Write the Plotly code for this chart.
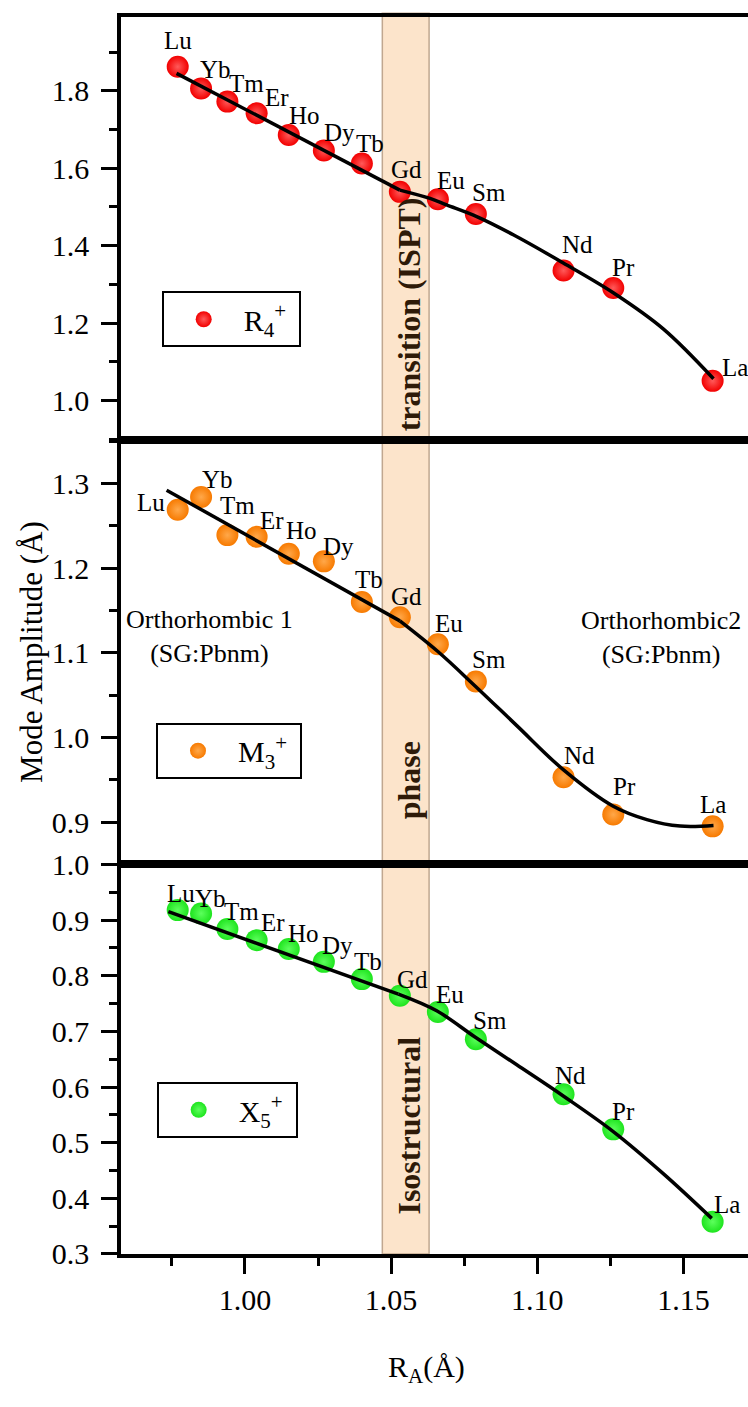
import plotly.graph_objects as go

FONT = "Times New Roman, Liberation Serif, serif"

# ---------------- data ----------------
elements = ["Lu", "Yb", "Tm", "Er", "Ho", "Dy", "Tb", "Gd", "Eu", "Sm", "Nd", "Pr", "La"]
radius = [0.977, 0.985, 0.994, 1.004, 1.015, 1.027, 1.040, 1.053, 1.066, 1.079, 1.109, 1.126, 1.160]

r4_amp = [1.862, 1.806, 1.772, 1.742, 1.686, 1.646, 1.612, 1.539, 1.520, 1.482, 1.336, 1.291, 1.051]
m3_amp = [1.269, 1.284, 1.239, 1.237, 1.217, 1.208, 1.160, 1.142, 1.110, 1.066, 0.953, 0.909, 0.895]
x5_amp = [0.918, 0.912, 0.884, 0.864, 0.848, 0.825, 0.794, 0.764, 0.735, 0.686, 0.587, 0.524, 0.358]

# fitted guide curves
r4_lin_x = [0.9766, 1.053]
r4_lin_y = [1.845, 1.5436]
r4_cur_x = [1.053, 1.0633, 1.0690, 1.0793, 1.0918, 1.1089, 1.1260, 1.1432, 1.1603]
r4_cur_y = [1.5436, 1.522, 1.5051, 1.4751, 1.4282, 1.3554, 1.2785, 1.1846, 1.0564]

m3_lin_x = [0.9732, 1.053]
m3_lin_y = [1.2921, 1.1377]
m3_cur_x = [1.053, 1.066, 1.079, 1.093, 1.109, 1.126, 1.1375, 1.1489, 1.1603]
m3_cur_y = [1.1377, 1.1015, 1.0600, 1.0140, 0.9617, 0.9188, 0.9030, 0.8953, 0.8960]

x5_lin_x = [0.9738, 1.0525]
x5_lin_y = [0.9153, 0.767]
x5_cur_x = [1.0525, 1.0656, 1.0787, 1.093, 1.1089, 1.126, 1.1432, 1.1597]
x5_cur_y = [0.767, 0.737, 0.690, 0.640, 0.584, 0.520, 0.444, 0.364]

band_x = [1.047, 1.063]

# ---------------- styling ----------------
# label offsets (px, right / up) per panel
off1 = [(0, 26), (14, 19), (19, 18), (20, 16), (16, 19), (16, 18), (8, 20), (7, 22), (13, 19), (13, 21), (14, 26), (10, 20), (22, 13)]
off2 = [(-27, 7), (16, 18), (10, 30), (15, 16), (13, 23), (15, 15), (7, 23), (7, 21), (11, 21), (13, 22), (16, 22), (11, 28), (0, 22)]
off3 = [(3, 17), (9, 15), (14, 18), (16, 18), (15, 16), (14, 16), (6, 18), (13, 16), (12, 17), (14, 19), (7, 19), (10, 18), (14, 17)]

panels = [
    dict(name="R<sub>4</sub><sup>+</sup> ", y=r4_amp, lx=r4_lin_x, ly=r4_lin_y, cx=r4_cur_x, cy=r4_cur_y,
         color="#f20000", grad="#ff5a5a", ax="", off=off1, legend="legend"),
    dict(name="M<sub>3</sub><sup>+</sup> ", y=m3_amp, lx=m3_lin_x, ly=m3_lin_y, cx=m3_cur_x, cy=m3_cur_y,
         color="#f77a00", grad="#ffa84a", ax="2", off=off2, legend="legend2"),
    dict(name="X<sub>5</sub><sup>+</sup> ", y=x5_amp, lx=x5_lin_x, ly=x5_lin_y, cx=x5_cur_x, cy=x5_cur_y,
         color="#1ee41e", grad="#5cff5c", ax="3", off=off3, legend="legend3"),
]

fig = go.Figure()
annotations = []

for p in panels:
    xa = "x" + p["ax"]
    ya = "y" + p["ax"]
    fig.add_trace(go.Scatter(
        x=radius, y=p["y"], mode="markers", name=p["name"], xaxis=xa, yaxis=ya,
        legend=p["legend"], showlegend=True,
        marker=dict(size=22, color=p["color"], line=dict(width=0),
                    gradient=dict(type="radial", color=p["grad"])),
    ))
    fig.add_trace(go.Scatter(
        x=p["lx"], y=p["ly"], mode="lines", xaxis=xa, yaxis=ya, showlegend=False,
        line=dict(color="black", width=3.5),
    ))
    fig.add_trace(go.Scatter(
        x=p["cx"], y=p["cy"], mode="lines", xaxis=xa, yaxis=ya, showlegend=False,
        line=dict(color="black", width=3.5, shape="spline", smoothing=1.0),
    ))
    for el, xv, yv, (dx, dy) in zip(elements, radius, p["y"], p["off"]):
        annotations.append(dict(
            x=xv, y=yv, xref=xa, yref=ya, text=el, showarrow=False,
            xanchor="center", yanchor="middle",
            xshift=dx, yshift=dy, font=dict(family=FONT, size=25, color="black"),
        ))

# band texts
band_mid = (band_x[0] + band_x[1]) / 2
band_text = [("transition (ISPT)", 0.7594), ("phase", 0.3827), ("Isostructural", 0.1036)]
for t, yp in band_text:
    annotations.append(dict(
        x=band_mid, y=yp, xref="x", yref="paper", text="<b>" + t + "</b>", showarrow=False,
        xanchor="center", yanchor="middle",
        textangle=-90, xshift=3, font=dict(family=FONT, size=32, color="#2e1a08"),
    ))

# phase region labels
annotations.append(dict(x=0.1404, y=0.4992, xref="paper", yref="paper",
                        xanchor="center", yanchor="middle",
                        text="Orthorhombic 1<br>(SG:Pbnm)", showarrow=False,
                        font=dict(family=FONT, size=26, color="black")))
annotations.append(dict(x=0.862, y=0.4985, xref="paper", yref="paper",
                        xanchor="center", yanchor="middle",
                        text="Orthorhombic2<br>(SG:Pbnm)", showarrow=False,
                        font=dict(family=FONT, size=26, color="black")))

# axis titles
annotations.append(dict(x=-0.142, y=0.4867, xref="paper", yref="paper", text="Mode Amplitude (Å)",
                        xanchor="center", yanchor="middle",
                        textangle=-90, showarrow=False, font=dict(family=FONT, size=31, color="black")))
annotations.append(dict(x=0.4876, y=-0.0932, xref="paper", yref="paper", text="R<sub>A</sub>(Å)",
                        xanchor="center", yanchor="middle",
                        showarrow=False, font=dict(family=FONT, size=30, color="black")))

shapes = [dict(type="rect", xref="x", yref="paper", x0=band_x[0], x1=band_x[1], y0=0, y1=1.003,
               fillcolor="#fce4cb", line=dict(color="rgba(185,160,135,0.9)", width=1.5), layer="below")]

xrange = [0.9576, 1.1721]
axis_common = dict(showline=True, linecolor="black", linewidth=3.5, showgrid=False, zeroline=False)

def xaxis(anchor, bottom):
    d = dict(axis_common, domain=[0, 1], range=xrange, anchor=anchor, mirror=True)
    if bottom:
        d.update(ticks="outside", ticklen=16, tickwidth=3, tickcolor="black", tick0=1.0, dtick=0.05,
                 tickformat=".2f", showticklabels=True,
                 tickfont=dict(family=FONT, size=30, color="black"),
                 minor=dict(dtick=0.025, tick0=1.0, ticks="outside", ticklen=8, tickwidth=3, tickcolor="black"))
    else:
        d.update(ticks="", showticklabels=False, matches="x3")
    return d

def yaxis(anchor, domain, rng, dtick, mdtick, tick0):
    return dict(axis_common, domain=domain, range=rng, anchor=anchor, mirror=False,
                ticks="outside", ticklen=16, tickwidth=3, tickcolor="black",
                tick0=tick0, dtick=dtick, tickformat=".1f", ticklabelstandoff=6,
                tickfont=dict(family=FONT, size=30, color="black"),
                minor=dict(dtick=mdtick, tick0=tick0, ticks="outside", ticklen=8, tickwidth=3, tickcolor="black"))

leg_common = dict(bgcolor="rgba(255,255,255,0)", bordercolor="black", borderwidth=2,
                  font=dict(family=FONT, size=30, color="black"), xanchor="left", yanchor="top",
                  itemwidth=70, xref="paper", yref="paper")

fig.update_layout(
    width=748, height=1407,
    margin=dict(l=121, r=0, t=9, b=153),
    paper_bgcolor="white", plot_bgcolor="white",
    font=dict(family=FONT),
    xaxis=xaxis("y", False),
    xaxis2=xaxis("y2", False),
    xaxis3=xaxis("y3", True),
    yaxis=yaxis("x", [0.6578, 1.0], [0.8975, 1.9905], 0.2, 0.1, 1.0),
    yaxis2=yaxis("x2", [0.3149, 0.6578], [0.85, 1.351], 0.1, 0.05, 1.0),
    yaxis3=yaxis("x3", [0.0, 0.3149], [0.3, 1.0], 0.1, 0.05, 1.0),
    legend=dict(leg_common, x=0.0649, y=0.7783),
    legend2=dict(leg_common, x=0.0558, y=0.4295),
    legend3=dict(leg_common, x=0.0569, y=0.1392),
    annotations=annotations,
    shapes=shapes,
    showlegend=True,
)

fig.write_html("out.html")
